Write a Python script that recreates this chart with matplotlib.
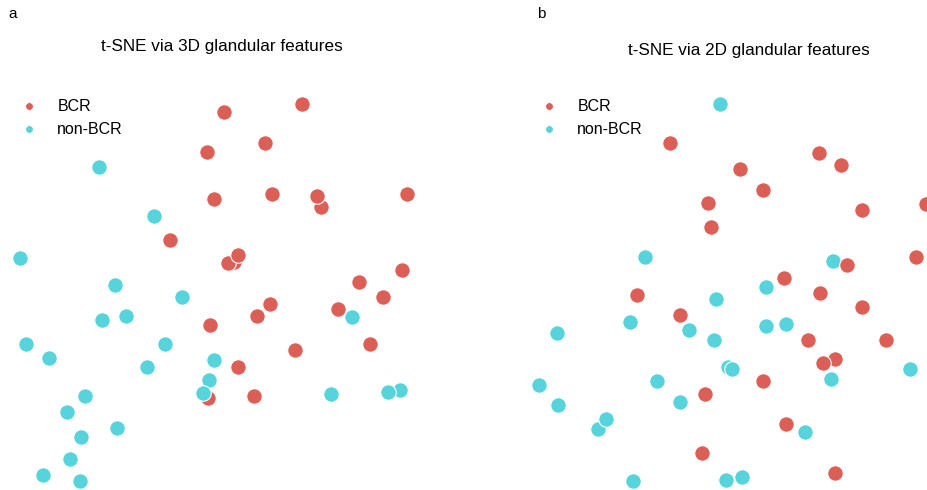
import matplotlib.pyplot as plt
from matplotlib.lines import Line2D

plt.rcParams['font.family'] = ['Liberation Sans', 'DejaVu Sans']

RED = '#db5f57'
CYAN = '#57d3db'

# t-SNE embedding (arbitrary units, y grows downwards)
bcr_3d_x = [224, 302, 265, 207, 214, 272, 321, 317, 407, 170, 234, 228, 238,
            402, 359, 383, 338, 270, 257, 210, 370, 295, 238, 208, 254]
bcr_3d_y = [112, 104, 143, 152, 199, 194, 207, 196, 194, 240, 262, 263, 255,
            270, 282, 297, 309, 304, 316, 325, 344, 350, 367, 398, 396]
non_3d_x = [99, 154, 20, 115, 182, 102, 126, 26, 49, 165, 147, 214, 209, 203,
            85, 67, 117, 81, 70, 43, 80, 352, 331, 400, 388]
non_3d_y = [167, 216, 258, 285, 297, 320, 316, 344, 358, 344, 367, 360, 380,
            393, 396, 412, 428, 437, 459, 475, 481, 317, 394, 390, 392]

bcr_2d_x = [670, 819, 841, 740, 763, 708, 711, 862, 926, 916, 847, 784, 820,
            637, 862, 680, 808, 886, 835, 823, 763, 705, 786, 702, 835]
bcr_2d_y = [143, 153, 165, 169, 190, 203, 227, 210, 204, 257, 265, 278, 293,
            295, 307, 315, 340, 340, 359, 363, 381, 394, 424, 453, 473]
non_2d_x = [720, 645, 833, 766, 716, 630, 689, 714, 766, 786, 557, 728, 732,
            831, 910, 657, 539, 558, 680, 598, 606, 805, 633, 726, 742]
non_2d_y = [104, 257, 261, 287, 299, 322, 330, 340, 326, 324, 333, 367, 369,
            379, 369, 381, 385, 405, 402, 429, 419, 432, 481, 480, 477]

panels = [
    ('t-SNE via 3D glandular features', (0, 464),
     bcr_3d_x, bcr_3d_y, non_3d_x, non_3d_y, True),
    ('t-SNE via 2D glandular features', (464, 928),
     bcr_2d_x, bcr_2d_y, non_2d_x, non_2d_y, False),
]

fig = plt.figure(figsize=(9.28, 4.9), dpi=100)

for i, (title, xlim, bx, by, nx, ny, red_first) in enumerate(panels):
    ax = fig.add_axes([0.5 * i, 0, 0.5, 1])
    ax.set_xlim(*xlim)
    ax.set_ylim(490, 0)
    ax.axis('off')

    kw = dict(s=125, edgecolors='white', linewidths=0.8)
    if red_first:
        ax.scatter(bx, by, color=RED, **kw)
        ax.scatter(nx, ny, color=CYAN, **kw)
    else:
        ax.scatter(nx, ny, color=CYAN, **kw)
        ax.scatter(bx, by, color=RED, **kw)

    handles = [Line2D([], [], ls='none', marker='o', ms=5.5, color=RED, mec='white', mew=0.5),
               Line2D([], [], ls='none', marker='o', ms=5.5, color=CYAN, mec='white', mew=0.5)]
    ax.legend(handles, ['BCR', 'non-BCR'], loc='upper left', frameon=False,
              fontsize=11.5, handletextpad=0.75, labelspacing=0.5,
              bbox_to_anchor=(-0.002 if i == 0 else 0.1185, 0.827))

fig.text(222 / 928, 1 - 47 / 490, panels[0][0], fontsize=12.3, ha='center', va='center')
fig.text(749 / 928, 1 - 50 / 490, panels[1][0], fontsize=12.3, ha='center', va='center')
fig.text(13 / 928, 1 - 14 / 490, 'a', fontsize=11, va='center', ha='center')
fig.text(541 / 928, 1 - 14 / 490, 'b', fontsize=11, va='center', ha='center')

fig.savefig('out.png', dpi=100)
